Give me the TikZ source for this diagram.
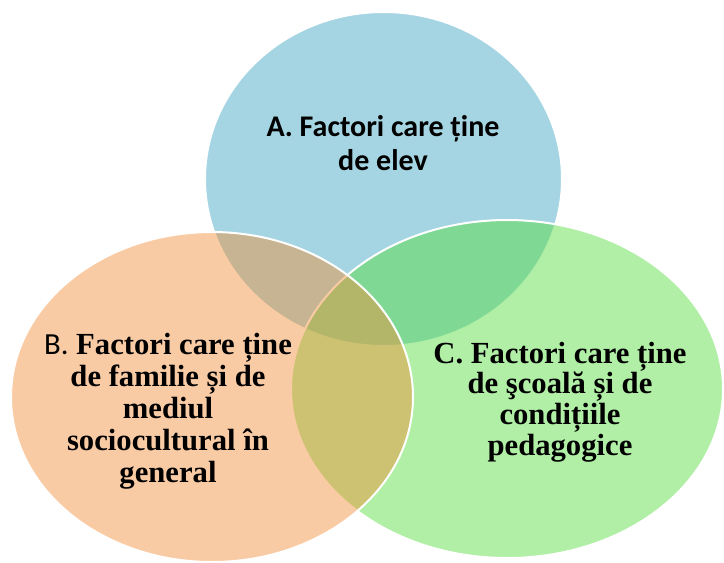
\documentclass[tikz,border=0pt]{standalone}
\usepackage{fontspec}
\setmainfont{Liberation Serif}
\newfontfamily\calib{Carlito}
\definecolor{Ac}{HTML}{A5D5E2}
\definecolor{Bc}{HTML}{F28C35}
\definecolor{Cc}{HTML}{57DD40}
\tikzset{
  ring/.style={draw=white, line width=1.5pt},
  Aset/.style={ring, fill=Ac},
  Bset/.style={ring, fill=Bc, fill opacity=0.45},
  Cset/.style={ring, fill=Cc, fill opacity=0.47},
  lab/.style={align=center, inner sep=0pt, anchor=base},
}

\begin{document}
\begin{tikzpicture}[x=0.75pt, y=-0.75pt]
  \useasboundingbox (0,0) rectangle (724,562);
  % A first, then C, then B so the rim of B stays on top
  \draw[Aset] (383.5,179) ellipse [x radius=178.5, y radius=167];
  \draw[Cset] (507,389) ellipse [x radius=216, y radius=169];
  \draw[Bset] (212,397) ellipse [x radius=201, y radius=165];
  % base anchor sits on the last line
  \node[lab, font=\calib\bfseries\fontsize{22.5}{25}\selectfont] (elev) at (383,170)
    {A. Factori care ține\\de elev};
  \node[lab, font=\bfseries\fontsize{23}{24}\selectfont] (familie) at (168,482)
    {{\calib\mdseries B.} Factori care ține\\de familie și de\\mediul\\sociocultural în\\general};
  \node[lab, font=\bfseries\fontsize{23}{23}\selectfont] (scoala) at (560,455)
    {C. Factori care ține\\de şcoală și de\\condițiile\\pedagogice};
\end{tikzpicture}
\end{document}
